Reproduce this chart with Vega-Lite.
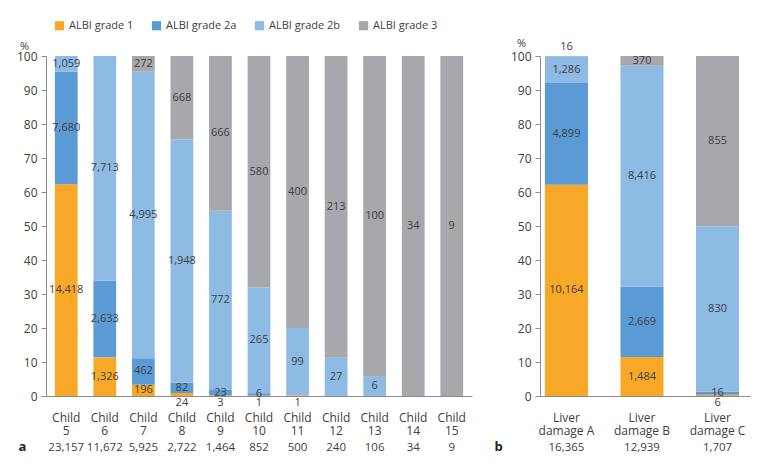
{
  "$schema": "https://vega.github.io/schema/vega-lite/v6.json",
  "padding": {"left": 16, "top": 20, "right": 10, "bottom": 10},
  "background": "white",
  "bounds": "flush",
  "spacing": 68,
  "config": {
    "font": "Open Sans",
    "view": {"stroke": null},
    "axis": {"grid": false, "labelColor": "#404040", "titleColor": "#404040", "domainColor": "#8c8c8c", "tickColor": "#8c8c8c"},
    "bar": {"stroke": null}
  },
  "datasets": {
    "left": [
      {"cat": "Child|5|23,157", "grade": "ALBI grade 1", "n": 14418},
      {"cat": "Child|5|23,157", "grade": "ALBI grade 2a", "n": 7680},
      {"cat": "Child|5|23,157", "grade": "ALBI grade 2b", "n": 1059},
      {"cat": "Child|6|11,672", "grade": "ALBI grade 1", "n": 1326},
      {"cat": "Child|6|11,672", "grade": "ALBI grade 2a", "n": 2633},
      {"cat": "Child|6|11,672", "grade": "ALBI grade 2b", "n": 7713},
      {"cat": "Child|7|5,925", "grade": "ALBI grade 1", "n": 196},
      {"cat": "Child|7|5,925", "grade": "ALBI grade 2a", "n": 462},
      {"cat": "Child|7|5,925", "grade": "ALBI grade 2b", "n": 4995},
      {"cat": "Child|7|5,925", "grade": "ALBI grade 3", "n": 272},
      {"cat": "Child|8|2,722", "grade": "ALBI grade 1", "n": 24},
      {"cat": "Child|8|2,722", "grade": "ALBI grade 2a", "n": 82},
      {"cat": "Child|8|2,722", "grade": "ALBI grade 2b", "n": 1948},
      {"cat": "Child|8|2,722", "grade": "ALBI grade 3", "n": 668},
      {"cat": "Child|9|1,464", "grade": "ALBI grade 1", "n": 3},
      {"cat": "Child|9|1,464", "grade": "ALBI grade 2a", "n": 23},
      {"cat": "Child|9|1,464", "grade": "ALBI grade 2b", "n": 772},
      {"cat": "Child|9|1,464", "grade": "ALBI grade 3", "n": 666},
      {"cat": "Child|10|852", "grade": "ALBI grade 1", "n": 1},
      {"cat": "Child|10|852", "grade": "ALBI grade 2a", "n": 6},
      {"cat": "Child|10|852", "grade": "ALBI grade 2b", "n": 265},
      {"cat": "Child|10|852", "grade": "ALBI grade 3", "n": 580},
      {"cat": "Child|11|500", "grade": "ALBI grade 1", "n": 1},
      {"cat": "Child|11|500", "grade": "ALBI grade 2b", "n": 99},
      {"cat": "Child|11|500", "grade": "ALBI grade 3", "n": 400},
      {"cat": "Child|12|240", "grade": "ALBI grade 2b", "n": 27},
      {"cat": "Child|12|240", "grade": "ALBI grade 3", "n": 213},
      {"cat": "Child|13|106", "grade": "ALBI grade 2b", "n": 6},
      {"cat": "Child|13|106", "grade": "ALBI grade 3", "n": 100},
      {"cat": "Child|14|34", "grade": "ALBI grade 3", "n": 34},
      {"cat": "Child|15|9", "grade": "ALBI grade 3", "n": 9}
    ],
    "right": [
      {"cat": "Liver|damage A|16,365", "grade": "ALBI grade 1", "n": 10164},
      {"cat": "Liver|damage A|16,365", "grade": "ALBI grade 2a", "n": 4899},
      {"cat": "Liver|damage A|16,365", "grade": "ALBI grade 2b", "n": 1286},
      {"cat": "Liver|damage A|16,365", "grade": "ALBI grade 3", "n": 16},
      {"cat": "Liver|damage B|12,939", "grade": "ALBI grade 1", "n": 1484},
      {"cat": "Liver|damage B|12,939", "grade": "ALBI grade 2a", "n": 2669},
      {"cat": "Liver|damage B|12,939", "grade": "ALBI grade 2b", "n": 8416},
      {"cat": "Liver|damage B|12,939", "grade": "ALBI grade 3", "n": 370},
      {"cat": "Liver|damage C|1,707", "grade": "ALBI grade 1", "n": 6},
      {"cat": "Liver|damage C|1,707", "grade": "ALBI grade 2a", "n": 16},
      {"cat": "Liver|damage C|1,707", "grade": "ALBI grade 2b", "n": 830},
      {"cat": "Liver|damage C|1,707", "grade": "ALBI grade 3", "n": 855}
    ]
  },
  "hconcat": [
    {
      "width": 426,
      "height": 340,
      "data": {"name": "left"},
      "transform": [
        {"stack": "n", "groupby": ["cat"], "sort": [{"field": "grade"}], "offset": "normalize", "as": ["y0", "y1"]},
        {"calculate": "datum.y1 - datum.y0", "as": "frac"},
        {"calculate": "datum.grade == 'ALBI grade 1' && datum.frac < 0.015 ? -0.021 : (datum.grade == 'ALBI grade 3' && datum.frac < 0.015 ? 1.027 : (datum.y0 + datum.y1) / 2)", "as": "ly"}
      ],
      "layer": [
        {
          "mark": {"type": "bar"},
          "encoding": {
            "x": {"field": "cat", "type": "nominal", "sort": null,
              "scale": {"paddingInner": 0.41, "paddingOuter": 0.23},
              "axis": {"orient": "bottom", "title": null, "ticks": false, "labelAngle": 0, "labelPadding": 16, "labelBaseline": "top", "labelLineHeight": 13, "labelFontSize": 12,
                "labelExpr": "[split(datum.value, '|')[0], split(datum.value, '|')[1]]"}},
            "y": {"field": "y0", "type": "quantitative", "scale": {"domain": [0, 1], "nice": false},
              "axis": {"orient": "left", "values": [0, 0.1, 0.2, 0.3, 0.4, 0.5, 0.6, 0.7, 0.8, 0.9, 1], "labelExpr": "format(datum.value * 100, '.0f')", "labelOverlap": false,
                "title": "%", "titleAngle": 0, "titleX": -22, "titleY": -10, "titleFontWeight": "normal", "titleFontSize": 11, "titleAlign": "center", "titleBaseline": "middle",
                "tickSize": 5, "labelPadding": 4, "labelFontSize": 12}},
            "y2": {"field": "y1"},
            "color": {"field": "grade", "type": "nominal",
              "scale": {"domain": ["ALBI grade 1", "ALBI grade 2a", "ALBI grade 2b", "ALBI grade 3"], "range": ["#F8A828", "#5B9BD5", "#8DBBE3", "#A7A8AB"]},
              "legend": {"orient": "none", "legendX": 8, "legendY": -36, "direction": "horizontal", "title": null, "symbolType": "square", "symbolSize": 85, "symbolStrokeWidth": 0, "labelFontSize": 11, "labelColor": "#404040", "columnPadding": 17, "labelOffset": 4}}
          }
        },
        {
          "mark": {"type": "text", "fontSize": 11, "color": "#404040", "baseline": "middle"},
          "encoding": {
            "x": {"field": "cat", "type": "nominal", "sort": null,
              "axis": {"orient": "bottom", "title": "a", "ticks": false, "domain": false, "labelAngle": 0, "labelPadding": 45, "labelBaseline": "top", "labelFontSize": 11.5,
                "labelExpr": "split(datum.value, '|')[2]",
                "titleX": -24, "titleY": 50, "titleFontWeight": "bold", "titleFontSize": 13, "titleAngle": 0, "titleBaseline": "middle", "titleAlign": "center", "titleColor": "#222"}},
            "y": {"field": "ly", "type": "quantitative", "axis": null},
            "text": {"field": "n", "type": "quantitative", "format": ","}
          }
        }
      ],
      "resolve": {"axis": {"x": "independent", "y": "independent"}}
    },
    {
      "width": 210,
      "height": 340,
      "data": {"name": "right"},
      "transform": [
        {"stack": "n", "groupby": ["cat"], "sort": [{"field": "grade"}], "offset": "normalize", "as": ["y0", "y1"]},
        {"calculate": "datum.y1 - datum.y0", "as": "frac"},
        {"calculate": "datum.grade == 'ALBI grade 1' && datum.frac < 0.015 ? -0.021 : (datum.grade == 'ALBI grade 3' && datum.frac < 0.015 ? 1.027 : (datum.y0 + datum.y1) / 2)", "as": "ly"}
      ],
      "layer": [
        {
          "mark": {"type": "bar"},
          "encoding": {
            "x": {"field": "cat", "type": "nominal", "sort": null,
              "scale": {"paddingInner": 0.43, "paddingOuter": 0.105, "align": 0.31},
              "axis": {"orient": "bottom", "title": null, "ticks": false, "labelAngle": 0, "labelPadding": 16, "labelBaseline": "top", "labelLineHeight": 13, "labelFontSize": 12,
                "labelExpr": "[split(datum.value, '|')[0], split(datum.value, '|')[1]]"}},
            "y": {"field": "y0", "type": "quantitative", "scale": {"domain": [0, 1], "nice": false},
              "axis": {"orient": "left", "values": [0, 0.1, 0.2, 0.3, 0.4, 0.5, 0.6, 0.7, 0.8, 0.9, 1], "labelExpr": "format(datum.value * 100, '.0f')", "labelOverlap": false,
                "title": "%", "titleAngle": 0, "titleX": -19, "titleY": -13, "titleFontWeight": "normal", "titleFontSize": 11, "titleAlign": "center", "titleBaseline": "middle",
                "tickSize": 5, "labelPadding": 4, "labelFontSize": 12}},
            "y2": {"field": "y1"},
            "color": {"field": "grade", "type": "nominal",
              "scale": {"domain": ["ALBI grade 1", "ALBI grade 2a", "ALBI grade 2b", "ALBI grade 3"], "range": ["#F8A828", "#5B9BD5", "#8DBBE3", "#A7A8AB"]},
              "legend": {"orient": "none", "legendX": 8, "legendY": -36, "direction": "horizontal", "title": null, "symbolType": "square", "symbolSize": 85, "symbolStrokeWidth": 0, "labelFontSize": 11, "labelColor": "#404040", "columnPadding": 17, "labelOffset": 4}}
          }
        },
        {
          "mark": {"type": "text", "fontSize": 11, "color": "#404040", "baseline": "middle"},
          "encoding": {
            "x": {"field": "cat", "type": "nominal", "sort": null,
              "axis": {"orient": "bottom", "title": "b", "ticks": false, "domain": false, "labelAngle": 0, "labelPadding": 45, "labelBaseline": "top", "labelFontSize": 11.5,
                "labelExpr": "split(datum.value, '|')[2]",
                "titleX": -42, "titleY": 50, "titleFontWeight": "bold", "titleFontSize": 13, "titleAngle": 0, "titleBaseline": "middle", "titleAlign": "center", "titleColor": "#222"}},
            "y": {"field": "ly", "type": "quantitative", "axis": null},
            "text": {"field": "n", "type": "quantitative", "format": ","}
          }
        }
      ],
      "resolve": {"axis": {"x": "independent", "y": "independent"}}
    }
  ]
}
